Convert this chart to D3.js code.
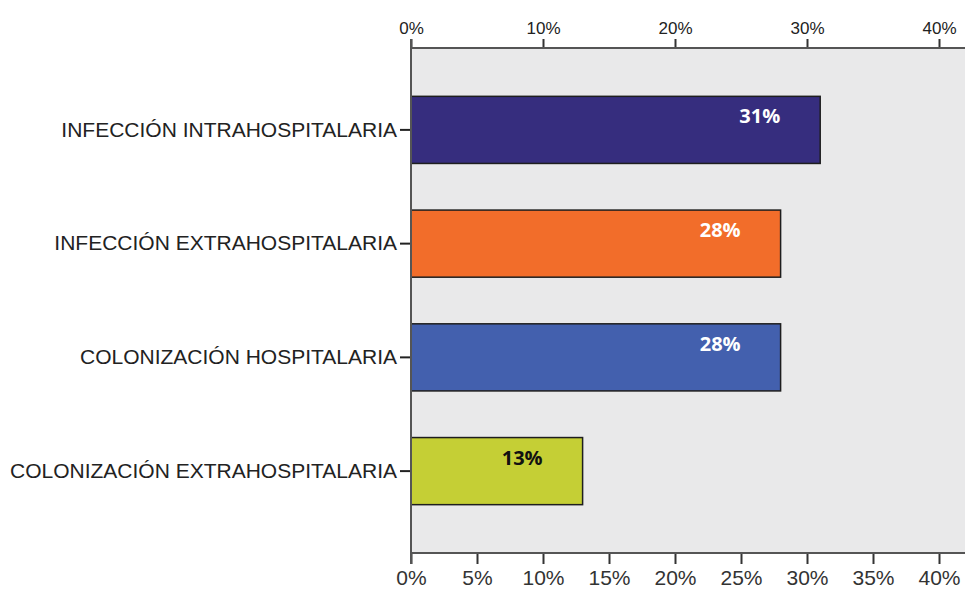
<!DOCTYPE html>
<html>
<head>
<meta charset="utf-8">
<script src="https://cdn.jsdelivr.net/npm/d3@7"></script>
<style>
  html, body { margin: 0; padding: 0; background: #fff; }
  svg { display: block; }
</style>
</head>
<body>
<svg id="chart" width="965" height="612"></svg>
<script>
// Share of each origin category (percent)
const categories = [
  "INFECCIÓN INTRAHOSPITALARIA",
  "INFECCIÓN EXTRAHOSPITALARIA",
  "COLONIZACIÓN HOSPITALARIA",
  "COLONIZACIÓN EXTRAHOSPITALARIA"
];
const values = [31, 28, 28, 13];
const barColors = ["#362d7e", "#f26d2a", "#4360ae", "#c5cf35"];
const labelColors = ["#ffffff", "#ffffff", "#ffffff", "#111111"];
const topTicks = [0, 10, 20, 30, 40];
const bottomTicks = [0, 5, 10, 15, 20, 25, 30, 35, 40];

const svg = d3.select("#chart");
const plot = { left: 411, right: 966, top: 48, bottom: 553 };

const x = d3.scaleLinear()
  .domain([0, 42])
  .range([plot.left, plot.left + 42 * 13.2]);

const y = d3.scaleBand()
  .domain(categories)
  .range([plot.top, plot.bottom])
  .paddingInner(0.41)
  .paddingOuter(0.425);

// Plot background
svg.append("rect")
  .attr("x", plot.left)
  .attr("y", plot.top)
  .attr("width", plot.right - plot.left)
  .attr("height", plot.bottom - plot.top)
  .attr("fill", "#e9e9ea")
  .attr("stroke", "#c8c8c8")
  .attr("stroke-width", 1);

// Bars
svg.append("g")
  .selectAll("rect")
  .data(categories)
  .join("rect")
  .attr("x", x(0))
  .attr("y", d => y(d))
  .attr("width", (d, i) => x(values[i]) - x(0))
  .attr("height", y.bandwidth())
  .attr("fill", (d, i) => barColors[i])
  .attr("stroke", "#1e1e1e")
  .attr("stroke-width", 1.5);

// Value labels inside bars
svg.append("g")
  .selectAll("text")
  .data(categories)
  .join("text")
  .attr("x", (d, i) => x(values[i]) - 40)
  .attr("y", d => y(d) + 27)
  .attr("text-anchor", "end")
  .attr("font-family", "'Open Sans', sans-serif")
  .attr("font-weight", "bold")
  .attr("font-size", 20)
  .attr("fill", (d, i) => labelColors[i])
  .text((d, i) => values[i] + "%");

const fmt = d => d + "%";

// Top axis
const topAxis = svg.append("g")
  .attr("transform", `translate(0,${plot.top})`)
  .call(d3.axisTop(x).tickValues(topTicks).tickFormat(fmt).tickSize(9).tickSizeOuter(0));
topAxis.select(".domain").remove();
topAxis.append("line")
  .attr("x1", plot.left).attr("x2", plot.right)
  .attr("stroke", "#555").attr("stroke-width", 2);
topAxis.selectAll(".tick line").attr("stroke", "#333").attr("stroke-width", 2);
topAxis.selectAll(".tick text")
  .attr("font-family", "'Liberation Sans', Arial, sans-serif")
  .attr("font-size", 17)
  .attr("fill", "#222")
  .attr("dy", "-0.1em");

// Bottom axis
const bottomAxis = svg.append("g")
  .attr("transform", `translate(0,${plot.bottom})`)
  .call(d3.axisBottom(x).tickValues(bottomTicks).tickFormat(fmt).tickSize(11).tickSizeOuter(0));
bottomAxis.select(".domain").remove();
bottomAxis.append("line")
  .attr("x1", plot.left).attr("x2", plot.right)
  .attr("stroke", "#555").attr("stroke-width", 2);
bottomAxis.selectAll(".tick line").attr("stroke", "#333").attr("stroke-width", 2);
bottomAxis.selectAll(".tick text")
  .attr("font-family", "'Liberation Sans', Arial, sans-serif")
  .attr("font-size", 21)
  .attr("fill", "#333")
  .attr("dy", "0.85em");

// Left category axis
const leftAxis = svg.append("g")
  .attr("transform", `translate(${plot.left},0)`)
  .call(d3.axisLeft(y).tickSize(11).tickPadding(3).tickSizeOuter(0));
leftAxis.select(".domain").remove();
leftAxis.append("line")
  .attr("y1", plot.top - 9).attr("y2", plot.bottom + 11)
  .attr("stroke", "#555").attr("stroke-width", 2);
leftAxis.selectAll(".tick line").attr("stroke", "#222").attr("stroke-width", 2);
leftAxis.selectAll(".tick text")
  .attr("font-family", "'Liberation Sans', Arial, sans-serif")
  .attr("font-size", 21)
  .attr("fill", "#222");
</script>
</body>
</html>
